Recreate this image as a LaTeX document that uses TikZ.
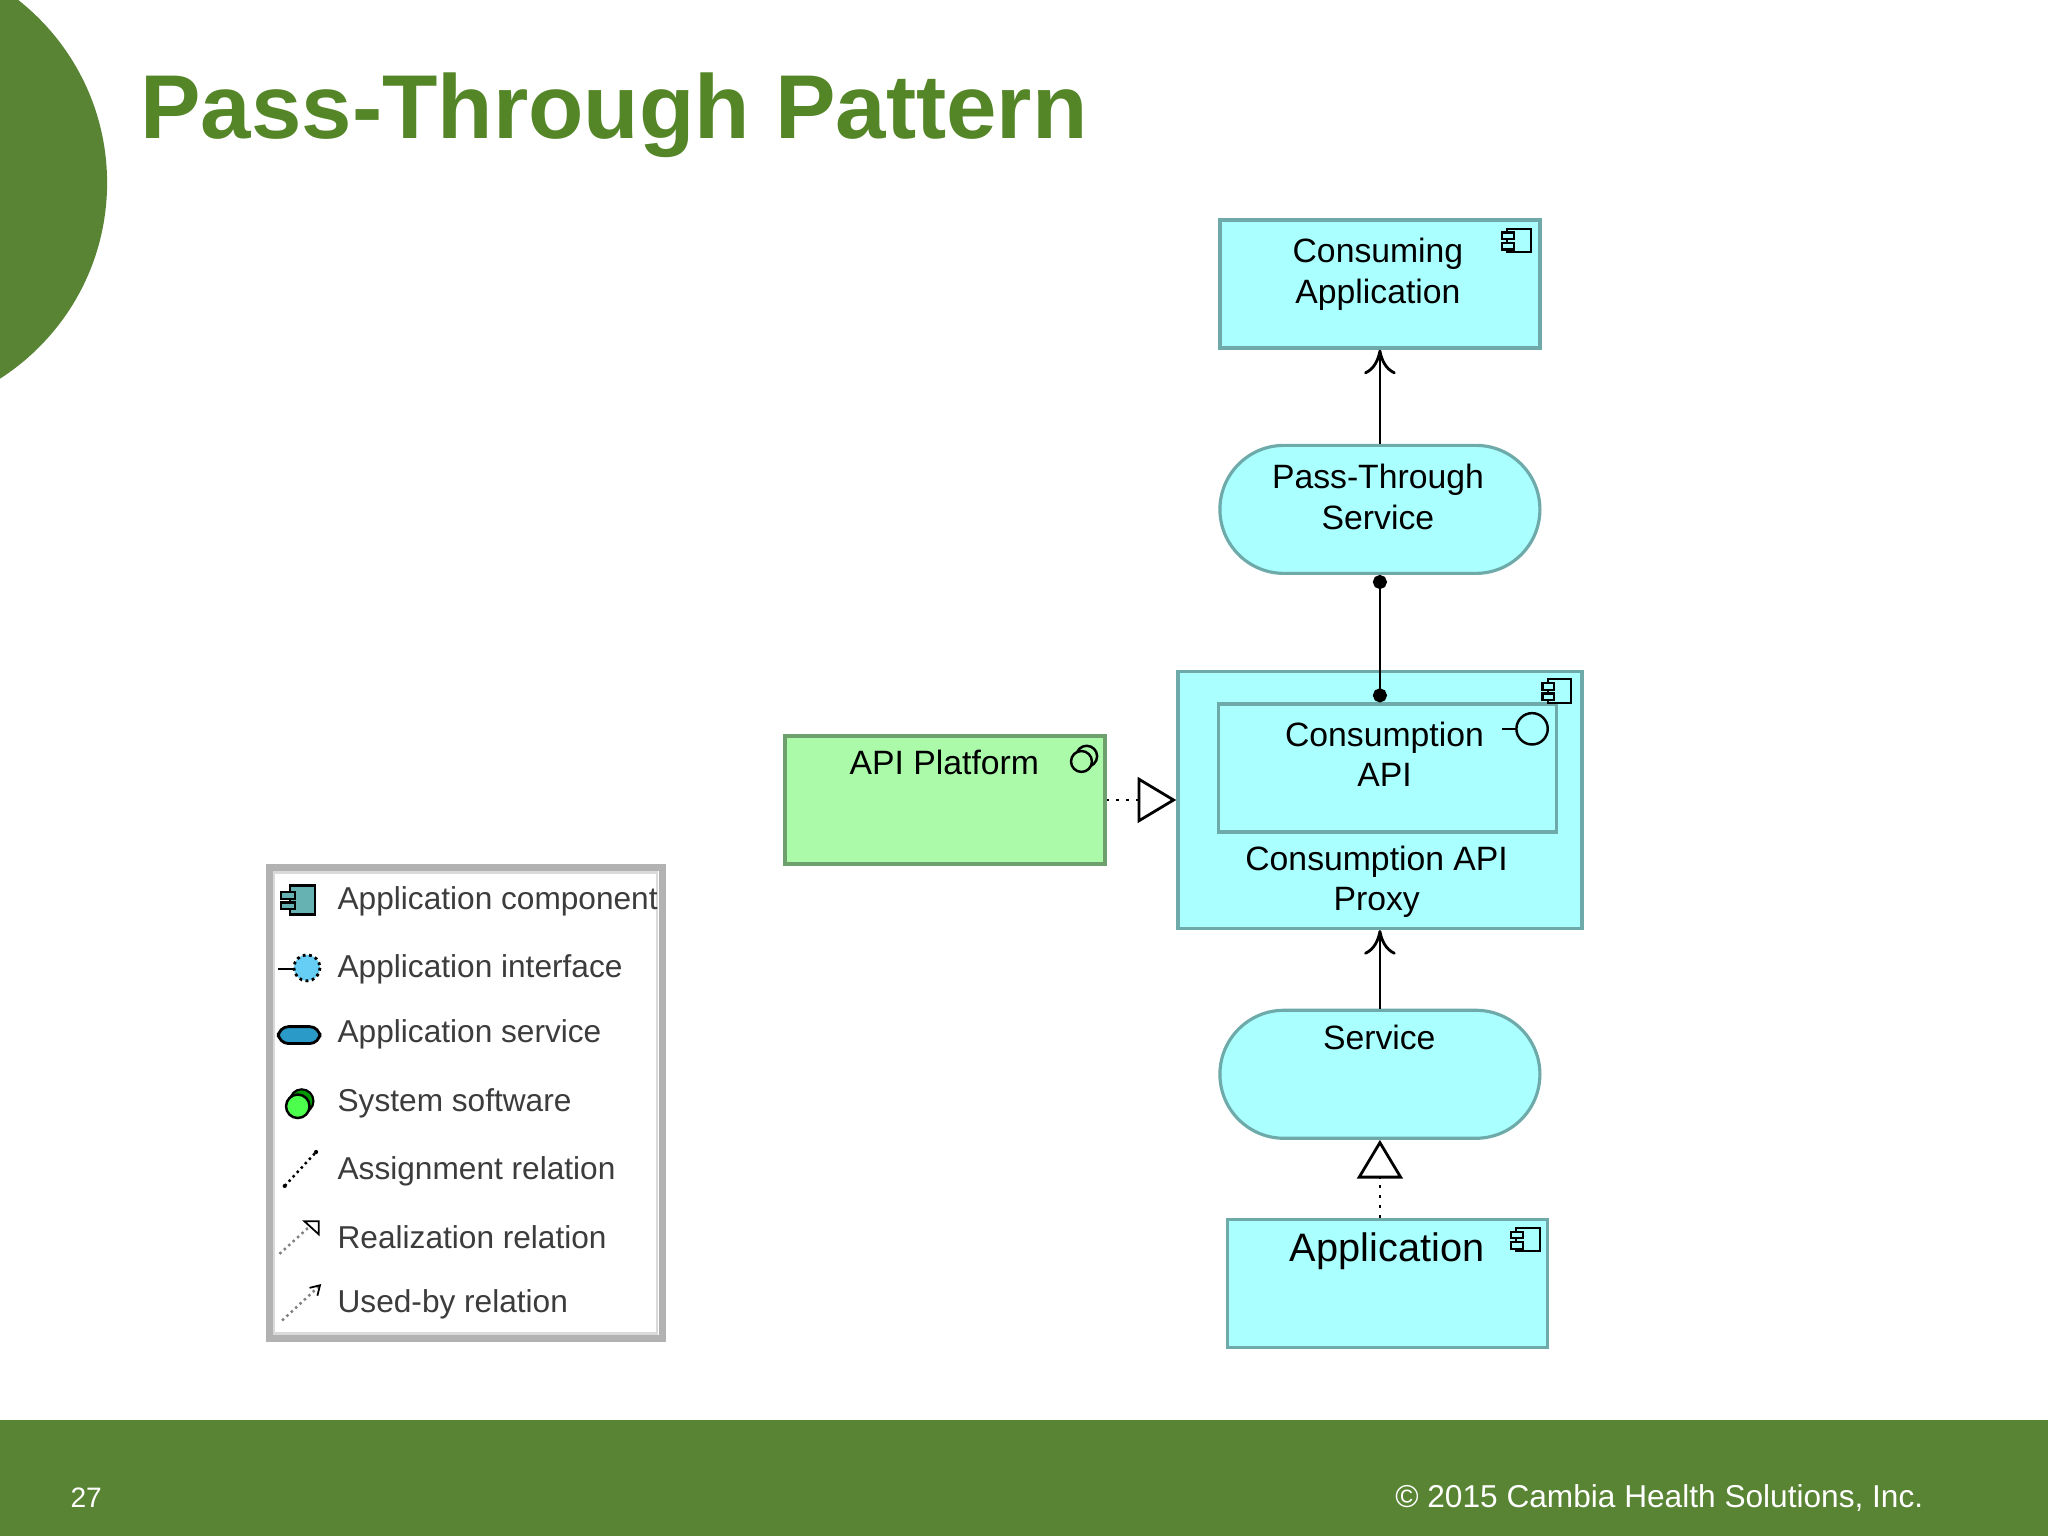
\documentclass[tikz,border=0pt]{standalone}
\usepackage{fontspec}
\setmainfont{Liberation Sans}
\usetikzlibrary{arrows.meta,calc}
\definecolor{slidegreen}{RGB}{88,132,52}
\definecolor{titlegreen}{RGB}{84,134,40}
\definecolor{appcyan}{RGB}{170,255,255}
\definecolor{appedge}{RGB}{110,170,170}
\definecolor{syslime}{RGB}{170,250,170}
\definecolor{sysedge}{RGB}{110,160,110}
\definecolor{legtext}{RGB}{60,60,60}
\tikzset{
  el/.style={draw=appedge,line width=0.9pt,fill=appcyan,minimum width=3.2cm,minimum height=1.28cm},
  svc/.style={el,rounded corners=0.64cm},
  lbl/.style={align=center,font=\fontsize{9.6}{11.5}\selectfont},
  usedby/.style={-{To[length=7pt,width=9pt]},line width=0.8pt},
  assign/.style={{Circle[length=4pt]}-{Circle[length=4pt]},line width=0.8pt},
  realize/.style={dotted,line width=0.8pt,-{Triangle[open,length=11pt,width=13pt]}},
  leg/.style={anchor=west,font=\fontsize{9}{11}\selectfont,text=legtext},
}
% component icon
\newcommand{\compicon}[1]{%
  \draw[line width=0.6pt] ($(#1)+(-9,-9)$) rectangle ($(#1)+(9,9)$);
  \draw[line width=0.6pt,fill=appcyan] ($(#1)+(-13,-6)$) rectangle ($(#1)+(-4,-1)$);
  \draw[line width=0.6pt,fill=appcyan] ($(#1)+(-13,2)$) rectangle ($(#1)+(-4,7)$);}
\begin{document}
\begin{tikzpicture}[x=0.01306cm,y=-0.01306cm]
\useasboundingbox (0,0) rectangle (1568,1176);
\fill[white] (0,0) rectangle (1568,1176);
% slide decoration
\begin{scope}
\clip (0,0) rectangle (1568,1176);
\fill[slidegreen] (-96,140) circle (178);
\end{scope}
\fill[slidegreen] (0,1087) rectangle (1568,1176);
\node[text=white,font=\fontsize{8}{10}\selectfont] (pg) at (66,1147) {27};
\node[anchor=east,text=white,font=\fontsize{9}{11}\selectfont] (cr) at (1482,1147) {© 2015 Cambia Health Solutions, Inc.};
\node[anchor=west,text=titlegreen,font=\bfseries\fontsize{25.8}{30}\selectfont] (title) at (98,88) {Pass-Through Pattern};

% elements
\node[el] (cons) at (1056.5,217.5) {};
\node[lbl,anchor=north] (consT) at (1055,173) {Consuming\\Application};
\node[svc] (pts) at (1056.5,390) {};
\node[lbl,anchor=north] (ptsT) at (1055,346) {Pass-Through\\Service};
\node[el,minimum width=4.04cm,minimum height=2.57cm] (proxy) at (1056.5,612.5) {};
\node[el,minimum width=3.38cm,minimum height=1.28cm] (api) at (1062.5,588) {};
\node[lbl,anchor=north] (apiT) at (1060,543) {Consumption\\API};
\node[lbl,anchor=north] (proxyT) at (1054,638) {Consumption API\\Proxy};
\node[el,fill=syslime,draw=sysedge] (plat) at (723.5,612.5) {};
\node[lbl] (platT) at (723,584) {API Platform};
\node[svc] (svc) at (1056.5,822.5) {};
\node[lbl] (svcT) at (1056,794) {Service};
\node[el] (app) at (1062.5,982.5) {};
\node[lbl,font=\fontsize{11.3}{13}\selectfont] (appT) at (1062,958) {Application};

% icons
\compicon{1163,184}
\compicon{1194,529}
\compicon{1170,949}
\draw[line width=0.7pt] (1150,558) -- (1161,558);
\draw[line width=0.7pt] (1173,558) circle (12);
\draw[line width=0.7pt] (832,579) circle (8);
\fill[syslime] (828,583) circle (7.3);
\draw[line width=0.7pt] (828,583) circle (8);

% connectors
\draw[usedby] (pts.north) -- (cons.south);
\draw[assign] (pts.south) -- (api.north -| pts.south);
\draw[realize] (plat.east) -- (proxy.west);
\draw[usedby] (svc.north) -- (proxy.south);
\draw[realize] (app.north -| svc.south) -- (svc.south);

% legend
\draw[gray!60,line width=2pt,fill=white] (206,664) rectangle (507,1025);
\draw[gray!30,line width=0.6pt] (210,668) rectangle (503,1021);
\node[leg] (l1) at (249,690) {Application component};
\node[leg] (l2) at (249,742) {Application interface};
\node[leg] (l3) at (249,792) {Application service};
\node[leg] (l4) at (249,845) {System software};
\node[leg] (l5) at (249,897) {Assignment relation};
\node[leg] (l6) at (249,947) {Realization relation};
\node[leg] (l7) at (249,999) {Used-by relation};
\draw[fill=teal!60,line width=0.7pt] (222,678) rectangle (241,700);
\draw[fill=teal!60,line width=0.6pt] (215,683) rectangle (226,688);
\draw[fill=teal!60,line width=0.6pt] (215,691) rectangle (226,696);
\draw[line width=0.7pt] (213,742) -- (225,742);
\draw[fill=cyan!60,densely dotted,line width=0.8pt] (235,741) circle (10);
\draw[fill=cyan!60!teal,line width=0.8pt,rounded corners=3pt] (213,786) rectangle (245,799);
\draw[fill=green!60!black,line width=0.6pt] (231,843) circle (9);
\draw[fill=green!70,line width=0.7pt] (228,847) circle (9);
\draw[densely dotted,line width=0.7pt] (218,908) -- (242,882);
\fill (218,908) circle (1.6) (242,882) circle (1.6);
\draw[densely dotted,gray,line width=0.7pt] (214,960) -- (236,940);
\draw[line width=0.5pt] (233,935) -- (244,935) -- (244,945) -- cycle;
\draw[densely dotted,gray,line width=0.7pt] (216,1011) -- (244,985);
\draw[line width=0.5pt] (237,986) -- (245,984) -- (243,992);
\end{tikzpicture}
\end{document}
